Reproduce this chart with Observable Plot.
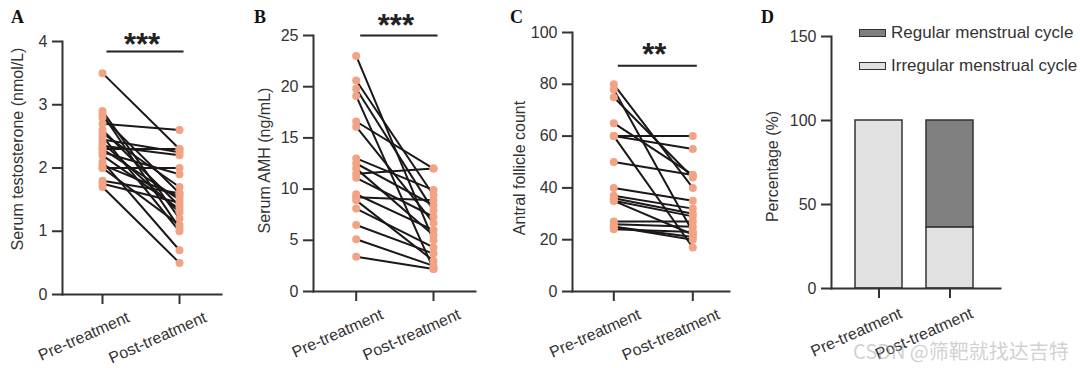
<!DOCTYPE html>
<html>
<head>
<meta charset="utf-8">
<script src="https://cdn.jsdelivr.net/npm/d3@7"></script>
<script src="https://cdn.jsdelivr.net/npm/@observablehq/plot@0.6"></script>
<style>
  body { margin: 0; background: #fff; }
  #wrap { position: relative; width: 1080px; height: 368px; overflow: hidden; background: #fff;
          font-family: "Liberation Sans", Arial, Helvetica, sans-serif; }
  .panel { position: absolute; top: 0; }
  .letter { position: absolute; top: 8px; font-family: "Liberation Serif", "Times New Roman", serif;
            font-weight: bold; font-size: 18px; line-height: 18px; color: #111; }
  .leg { position: absolute; left: 859px; height: 20px; display: flex; align-items: center;
         font-size: 17px; color: #333; }
  .sw { width: 25px; height: 6px; border: 1.5px solid #333; margin-right: 5px; }
  #wm { position: absolute; left: 853px; top: 336px; font-family: "Noto Sans CJK SC", sans-serif;
        font-size: 20px; color: rgba(170,170,170,0.55); white-space: nowrap; }
</style>
</head>
<body>
<div id="wrap"></div>
<script>
// ---------- data ----------
const groups = ["Pre-treatment", "Post-treatment"];

const testosteronePre  = [3.5, 2.9, 2.85, 2.8, 2.7, 2.6, 2.55, 2.5, 2.45, 2.4, 2.35, 2.3, 2.3, 2.25, 2.2, 2.1, 2.05, 2.0, 2.0, 1.8, 1.75, 1.7];
const testosteronePost = [2.3, 1.2, 1.05, 1.6, 2.6, 1.4, 1.7, 1.0, 2.25, 1.3, 2.2, 2.3, 1.5, 1.9, 1.35, 0.7, 1.55, 2.0, 1.1, 1.6, 1.45, 0.5];

const amhPre  = [23.0, 20.6, 19.8, 19.1, 16.6, 16.1, 13.0, 12.5, 12.0, 11.5, 11.1, 9.5, 9.2, 8.9, 8.1, 6.5, 5.1, 3.4];
const amhPost = [5.0, 9.4, 7.9, 2.2, 12.0, 6.7, 9.9, 8.4, 5.5, 12.0, 7.3, 6.0, 8.9, 3.0, 4.3, 3.7, 2.5, 2.2];

const afcPre  = [80, 78, 75, 65, 60, 60, 60, 50, 40, 37, 36, 35, 35, 27, 26, 25, 25, 24];
const afcPost = [40, 23, 44, 45, 60, 17, 55, 45, 35, 32, 30, 29, 22, 27, 25, 21, 20, 23];

const cycleTypes   = ["Regular menstrual cycle", "Irregular menstrual cycle"];
const regularPct   = [0, 63.6];
const irregularPct = [100, 36.4];

const testosteroneTicks = [0, 1, 2, 3, 4];
const amhTicks = [0, 5, 10, 15, 20, 25];
const afcTicks = [0, 20, 40, 60, 80, 100];
const pctTicks = [0, 50, 100, 150];

const labels = {
  A: "Serum testosterone (nmol/L)",
  B: "Serum AMH (ng/mL)",
  C: "Antral follicle count",
  D: "Percentage (%)"
};

// ---------- styling ----------
const FONT = '"Liberation Sans", Arial, Helvetica, sans-serif';
const INK = "#333";
const LINE = "#1c1818";
const DOT = "#f2a383";
const wrap = document.getElementById("wrap");

function place(svg, left) {
  svg.classList.add("panel");
  svg.style.left = left + "px";
  wrap.appendChild(svg);
}

function common(cfg) {
  return {
    width: cfg.width, height: 368,
    marginLeft: cfg.mL, marginRight: cfg.mR, marginTop: cfg.mT, marginBottom: cfg.mB,
    style: {fontFamily: FONT, fontSize: "16px", color: INK, background: "transparent", overflow: "visible"}
  };
}

function axisMarks(cfg, xTicksData, xOf) {
  return [
    Plot.axisY(cfg.yTicks, {tickSize: 10, tickPadding: 5, strokeWidth: 2, label: null, fontSize: 16, tickFormat: "d"}),
    Plot.axisX(xTicksData, {tickSize: 10, strokeWidth: 2, tickFormat: () => "", label: null}),
    Plot.text(xTicksData, {x: d => d, frameAnchor: "bottom", text: xOf, rotate: -24,
      textAnchor: "end", lineAnchor: "middle", dx: cfg.tdx, dy: cfg.tdy, fontSize: 16, fill: INK}),
    Plot.frame({anchor: "left", stroke: INK, strokeWidth: 2}),
    Plot.frame({anchor: "bottom", stroke: INK, strokeWidth: 2}),
    Plot.text([cfg.yLabel], {frameAnchor: "left", text: d => d, rotate: -90, dx: cfg.ldx, dy: cfg.ldy,
      textAnchor: "middle", lineAnchor: "middle", fontSize: 16, fill: INK})
  ];
}

function paired(cfg) {
  const rows = cfg.pre.flatMap((v, i) => [
    {id: i, g: 0, value: v},
    {id: i, g: 1, value: cfg.post[i]}
  ]);
  return Plot.plot({
    ...common(cfg),
    x: {domain: [0, 1], range: cfg.xRange, axis: null},
    y: {domain: [cfg.yTicks[0], cfg.yTicks[cfg.yTicks.length - 1]], axis: null},
    marks: [
      ...axisMarks(cfg, [0, 1], d => groups[d]),
      Plot.line(rows, {x: "g", y: "value", z: "id", stroke: LINE, strokeWidth: 2}),
      Plot.dot(rows, {x: "g", y: "value", r: 4, fill: DOT}),
      Plot.ruleY([cfg.barY], {x1: 0, x2: 1, dx: 4.5, stroke: "#222", strokeWidth: 2}),
      Plot.text([cfg.stars], {x: 0.5, y: cfg.barY, text: d => d, dx: 1, dy: cfg.sdy, fontSize: 31,
        fontWeight: "bold", fill: "#222", lineAnchor: "middle", letterSpacing: "1px"})
    ]
  });
}

// Panel A
place(paired({
  pre: testosteronePre, post: testosteronePost, yTicks: testosteroneTicks, yLabel: labels.A,
  width: 250, mL: 62, mR: 29, mT: 41, mB: 74, xRange: [102, 179],
  tdx: 26, tdy: 22, ldx: -45, ldy: -19, barY: 3.84, stars: "***", sdy: -7
}), 0);

// Panel B
place(paired({
  pre: amhPre, post: amhPost, yTicks: amhTicks, yLabel: labels.B,
  width: 230, mL: 63, mR: 5, mT: 35, mB: 77, xRange: [105.7, 183],
  tdx: 26, tdy: 22, ldx: -49, ldy: -3, barY: 25, stars: "***", sdy: -9
}), 250);

// Panel C
place(paired({
  pre: afcPre, post: afcPost, yTicks: afcTicks, yLabel: labels.C,
  width: 235, mL: 72, mR: 6, mT: 32, mB: 77, xRange: [113.3, 192.3],
  tdx: 26, tdy: 22, ldx: -53, ldy: 6, barY: 87.2, stars: "**", sdy: -11
}), 500);

// Panel D
const cycleRows = groups.flatMap((g, i) => [
  {group: g, type: cycleTypes[1], pct: irregularPct[i]},
  {group: g, type: cycleTypes[0], pct: regularPct[i]}
]).filter(d => d.pct > 0);

const cfgD = {width: 340, mL: 91, mR: 80, mT: 36, mB: 80, yTicks: pctTicks, yLabel: labels.D,
  tdx: 22, tdy: 24, ldx: -59, ldy: 4};
place(Plot.plot({
  ...common(cfgD),
  x: {type: "band", domain: groups, range: [115, 233], paddingInner: 0.34, paddingOuter: 0, axis: null},
  y: {domain: [0, 150], axis: null},
  color: {domain: cycleTypes, range: ["#808080", "#e1e1e1"]},
  marks: [
    Plot.barY(cycleRows, {x: "group", y: "pct", fill: "type", stroke: INK, strokeWidth: 1.5}),
    ...axisMarks(cfgD, groups, d => d)
  ]
}), 740);

// Legend for D
[["#808080", 23], ["#e1e1e1", 56]].forEach(([c, top], i) => {
  const d = document.createElement("div");
  d.className = "leg";
  d.style.top = top + "px";
  d.innerHTML = `<span class="sw" style="background:${c}"></span><span>${cycleTypes[i]}</span>`;
  wrap.appendChild(d);
});

// Panel letters
[["A", 11], ["B", 254], ["C", 510], ["D", 761]].forEach(([t, x]) => {
  const d = document.createElement("div");
  d.className = "letter";
  d.style.left = x + "px";
  d.textContent = t;
  wrap.appendChild(d);
});

// Watermark
const wm = document.createElement("div");
wm.id = "wm";
wm.textContent = "CSDN @筛靶就找达吉特";
wrap.appendChild(wm);
</script>
</body>
</html>
